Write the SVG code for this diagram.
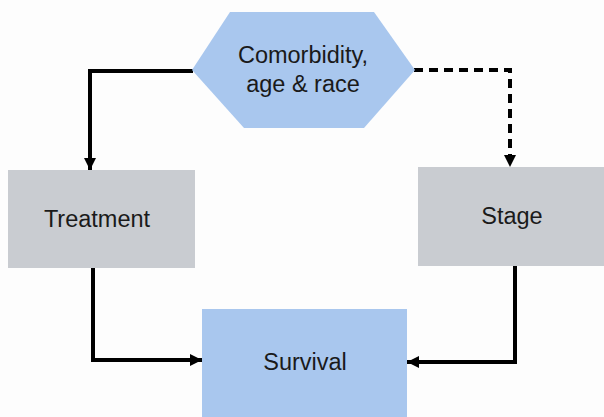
<svg xmlns="http://www.w3.org/2000/svg" width="604" height="417" viewBox="0 0 604 417">
<defs>
<style>
.lbl{font-family:"Liberation Sans",Arial,sans-serif;font-size:23.5px;fill:#1a1a1a;text-anchor:middle}
.blue{fill:#a9c7ee}
.gray{fill:#c9ccd1}
.conn{fill:none;stroke:#000;stroke-width:4;stroke-linejoin:miter}
.dash{stroke-dasharray:9,6}
</style>
<marker id="arr" viewBox="0 0 10 10" refX="10" refY="5" markerWidth="3" markerHeight="3" orient="auto" markerUnits="strokeWidth">
<path d="M0,0 L10,5 L0,10 z" fill="#000"/>
</marker>
</defs>
<rect width="604" height="417" fill="#fdfdfd"/>
<g id="connectors">
<path class="conn" d="M193,71 H90 V170" marker-end="url(#arr)"/>
<path class="conn dash" d="M414,70 H510 V167" marker-end="url(#arr)"/>
<path class="conn" d="M93,268 V360 H202" marker-end="url(#arr)"/>
<path class="conn" d="M515,266 V362 H407" marker-end="url(#arr)"/>
</g>
<g id="comorbidity">
<polygon class="blue" points="192,70 230,12 374,12 415,70 364,128 244,128"/>
<text class="lbl" x="303" y="63">Comorbidity,</text>
<text class="lbl" x="303" y="92">age &amp; race</text>
</g>
<g id="treatment">
<rect class="gray" x="8" y="170" width="187" height="98"/>
<text class="lbl" x="97" y="227">Treatment</text>
</g>
<g id="stage">
<rect class="gray" x="418" y="167" width="186" height="99"/>
<text class="lbl" x="512" y="224">Stage</text>
</g>
<g id="survival">
<rect class="blue" x="202" y="309" width="205" height="108"/>
<text class="lbl" x="305" y="370">Survival</text>
</g>
</svg>
